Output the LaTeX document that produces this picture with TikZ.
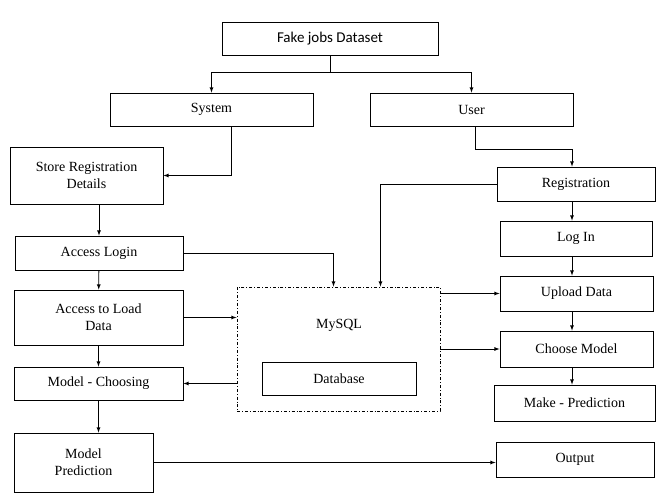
\documentclass[tikz,border=0pt]{standalone}
\usepackage{fontspec}
\setmainfont{Liberation Serif}
\newfontfamily\calib{Carlito}
\usetikzlibrary{calc,positioning}
\begin{document}
\begin{tikzpicture}[x=1pt,y=-1pt,
  box/.style={draw,thick,minimum width=#1,inner sep=1pt,align=center,font=\fontsize{14}{17}\selectfont},
  box/.default=160,
  arr/.style={thick,-latex}]
\useasboundingbox (0,0) rectangle (664,502);
% top
\node[box=216,minimum height=33,font=\calib\fontsize{15}{17}\selectfont] (data) at (330,38.5) {Fake jobs Dataset};
\node[box=203,minimum height=33] (sys) at (211.5,109.5) {System};
\node[box=203,minimum height=33] (user) at (471.5,109.5) {User};
% left column
\node[box=153,minimum height=57] (store) at (86.5,175.5) {Store Registration\\Details};
\node[box=168,minimum height=34] (login) at (99,253) {Access Login};
\node[box=169,minimum height=55] (load) at (98.5,317.5) {Access to Load\\Data};
\node[box=169,minimum height=33] (choosing) at (98.5,383.5) {Model - Choosing};
\node[box=139,minimum height=59] (pred) at (83.5,462.5) {Model\\Prediction};
% right column
\node[box=158,minimum height=34] (reg) at (576,184) {Registration};
\node[box=152,minimum height=35] (log) at (576,238.5) {Log In};
\node[box=153,minimum height=35] (upload) at (576.5,293.5) {Upload Data};
\node[box=153,minimum height=36] (choose) at (576.5,349) {Choose Model};
\node[box=161,minimum height=36] (make) at (574.5,403) {Make - Prediction};
\node[box=158,minimum height=35] (out) at (575,459.5) {Output};
% database
\node[draw,thick,dash dot,minimum width=203,minimum height=124] (sql) at (338.5,349) {};
\node[font=\fontsize{14}{17}\selectfont] (mysql) at (339,325) {MySQL};
\node[box=154,minimum height=33] (db) at (339,378.5) {Database};
% connectors
\coordinate (split) at ($(data.south)+(0,17)$);
\draw[thick] (data.south) -- (split);
\draw[arr] (split) -| (sys.north);
\draw[arr] (split) -| (user.north);
\draw[arr] ($(sys.south)+(20,0)$) |- (store.east);
\draw[arr] ($(user.south)+(4,0)$) |- ($(reg.north)+(-4,-17)$) -- ($(reg.north)+(-4,0)$);
\draw[arr] (reg.west) -| ($(sql.north)+(42,0)$);
\draw[arr] (login.east) -| ($(sql.north)+(-5,0)$);
\draw[arr] (store.south -| login.south) -- (login.south |- login.north);
\draw[arr] (login) -- (load);
\draw[arr] (load) -- (choosing);
\draw[arr] (choosing.south) -- (choosing.south |- pred.north);
\draw[arr] ($(reg.south)+(-4,0)$) -- ($(log.north)+(-4,0)$);
\draw[arr] ($(log.south)+(-4,0)$) -- ($(upload.north)+(-4.5,0)$);
\draw[arr] ($(upload.south)+(-4.5,0)$) -- ($(choose.north)+(-4.5,0)$);
\draw[arr] ($(choose.south)+(-4.5,0)$) -- ($(make.north)+(-2.5,0)$);
\draw[arr] (load.east) -- (load.east -| sql.west);
\draw[arr] (choosing.east -| sql.west) -- (choosing.east);
\draw[arr] (upload.west -| sql.east) -- (upload.west);
\draw[arr] (choose.west -| sql.east) -- (choose.west);
\draw[arr] (pred.east) -- (pred.east -| out.west);
\end{tikzpicture}
\end{document}
